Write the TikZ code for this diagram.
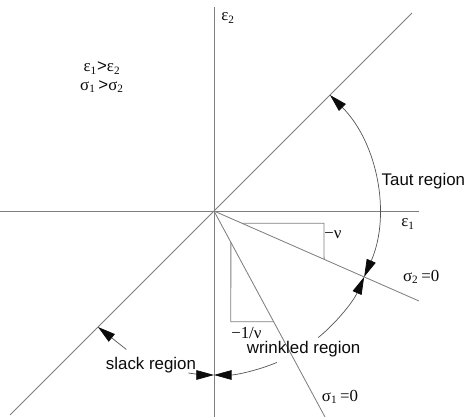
\documentclass[tikz,border=0pt]{standalone}
\usepackage{fontspec}
\setmainfont{Liberation Sans}
\newfontfamily\greekfont{Liberation Serif}
\usetikzlibrary{arrows.meta,calc}
\definecolor{cline}{HTML}{7f7f7f}
\definecolor{cink}{HTML}{0b0b0b}
\newcommand{\gsub}[2]{{\greekfont #1\textsubscript{#2}}}

\begin{document}
\begin{tikzpicture}[every node/.style={font=\fontsize{12}{14}\selectfont, text=cink, inner sep=1pt},
    axis/.style={cline, line width=0.6pt},
    arcline/.style={cink!70, line width=0.5pt},
    tipend/.style={-{Triangle[length=4.4mm,width=2.4mm,cink]}},
    tipboth/.style={{Triangle[length=4.4mm,width=2.4mm,cink]}-{Triangle[length=4.4mm,width=2.4mm,cink]}},
    tipstart/.style={{Triangle[length=4.4mm,width=2.4mm,cink]}-}]
  \useasboundingbox (-5.35,-5.15) rectangle (6.3,5.275);
  % axes and the three lines through the origin
  \coordinate (O) at (0,0);
  \coordinate (vtop) at (0,5.1);
  \coordinate (vbot) at (0,-5.15);
  \coordinate (hleft) at (-5.35,0);
  \coordinate (hright) at (5.125,0);
  \coordinate (dlow) at (-5.1,-5.1);
  \coordinate (dhigh) at (4.95,4.95);
  \coordinate (stwo) at (5.125,-2.25);
  \coordinate (sone) at (2.775,-5.15);
  \draw[axis] (vtop) -- (vbot);
  \draw[axis] (hleft) -- (hright);
  \draw[axis] (dlow) -- (dhigh);
  \draw[axis] (O) -- (stwo);
  \draw[axis] (O) -- (sone);
  % slope triangles
  \draw[axis] ($(O)!0.137!(stwo)$) -- (2.75,-0.307) -- ($(O)!0.537!(stwo)$);
  \draw[axis] ($(O)!0.152!(sone)$) -- (0.42,-2.77) -- ($(O)!0.538!(sone)$);
  \node[anchor=west, inner sep=0pt] (nu) at (2.75,-0.6) {\greekfont −ν};
  \node (invnu) at (0.81,-3.05) {\greekfont −1/ν};
  % axis labels
  \node (etwo) at (0.35,4.83) {\gsub{ε}{2}};
  \node (eone) at (4.85,-0.33) {\gsub{ε}{1}};
  \node (ineq) at (-2.8,3.34) [align=center] {\gsub{ε}{1}>\gsub{ε}{2}\\[-1pt]\gsub{σ}{1}\,>\gsub{σ}{2}};
  \node (stwolab) at (5.18,-1.65) {\greekfont σ\textsubscript{2}\,=0};
  \node (sonelab) at (3.15,-4.65) {\greekfont σ\textsubscript{1}\,=0};
  % regions
  \coordinate (ptaut) at (45:4.1);
  \coordinate (pwrink) at (-23.7:4.1);
  \coordinate (pwgap) at (-67.5:4.1);
  \coordinate (pslackarc) at (-99:4.1);
  \coordinate (pslack) at (-2.9,-2.9);
  \draw[arcline, tipboth] (ptaut) arc[start angle=45, end angle=-23.7, radius=4.1];
  \draw[arcline, tipstart] (pwrink) arc[start angle=-23.7, end angle=-50.5, radius=4.1];
  \draw[arcline, tipend] (pwgap) arc[start angle=-67.5, end angle=-90, radius=4.1];
  \draw[arcline, tipend] (pslackarc) arc[start angle=-99, end angle=-90, radius=4.1];
  \node[anchor=west] (taut) at (4.15,0.75) {Taut region};
  \node (wrink) at (2.24,-3.45) {wrinkled region};
  \node (slack) at (-1.575,-3.85) {slack region};
  \draw[arcline, tipend] ($(slack.north west)+(0.55,0.15)$) -- (pslack);
\end{tikzpicture}
\end{document}
